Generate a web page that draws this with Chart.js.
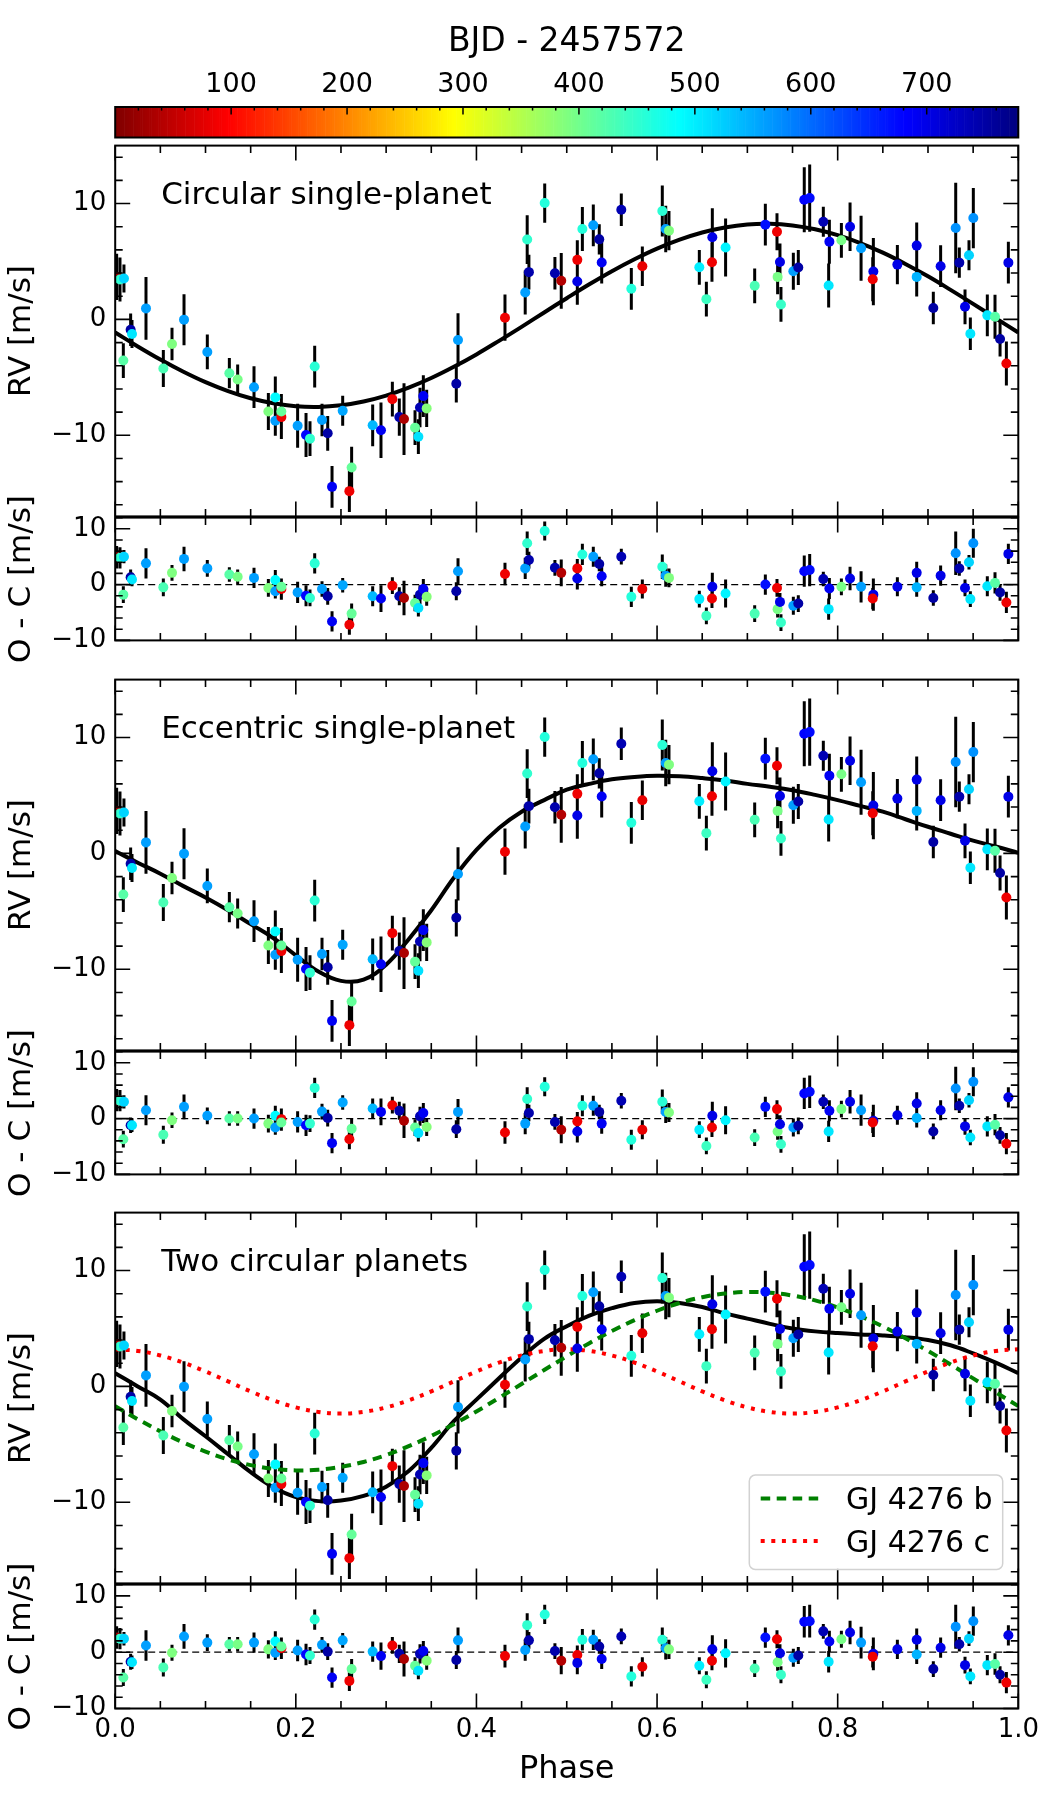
<!DOCTYPE html>
<html>
<head>
<meta charset="utf-8">
<script src="https://cdn.jsdelivr.net/npm/chart.js@4.4.1/dist/chart.umd.min.js"></script>
<style>
  html, body { margin: 0; padding: 0; background: #fff; }
  #wrap { position: relative; width: 1050px; height: 1800px; }
  #wrap canvas { position: absolute; left: 0; }
</style>
</head>
<body>
<div id="wrap"></div>
<script>
// ---- data ----
const T_MAX = 779; // colour scale end, BJD - 2457572

const phase = [
  0.0016, 0.0053, 0.0097, 0.0090, 0.0171, 0.0186, 0.0341, 0.0533, 0.0629, 0.0762,
  0.1020, 0.1264, 0.1356, 0.1537, 0.1696, 0.1773, 0.1773, 0.1840, 0.1840, 0.2020,
  0.2113, 0.2157, 0.2209, 0.2290, 0.2353, 0.2401, 0.2519, 0.2593, 0.2618, 0.2851,
  0.2943, 0.3069, 0.3146, 0.3198, 0.3320, 0.3357, 0.3375, 0.3412, 0.3449, 0.3777,
  0.3796, 0.4316, 0.4540, 0.4562, 0.4581, 0.4756, 0.4869, 0.4939, 0.5117, 0.5117,
  0.5173, 0.5294, 0.5360, 0.5387, 0.5604, 0.5715, 0.5837, 0.6058, 0.6096, 0.6132,
  0.6468, 0.6546, 0.6608, 0.6612, 0.6759, 0.7081, 0.7199, 0.7328, 0.7335, 0.7361,
  0.7372, 0.7509, 0.7564, 0.7630, 0.7690, 0.7841, 0.7908, 0.7900, 0.8041, 0.8137,
  0.8259, 0.8395, 0.8388, 0.8661, 0.8875, 0.8875, 0.9059, 0.9140, 0.9307, 0.9347,
  0.9410, 0.9454, 0.9469, 0.9502, 0.9657, 0.9742, 0.9798, 0.9868, 0.9890
];

const rv = [
  3.67, 3.44, 3.53, -3.55, -0.90, -1.26, 0.95, -4.24, -2.12, -0.02,
  -2.81, -4.64, -5.19, -5.85, -7.94, -6.73, -8.74, -8.43, -7.94, -9.17,
  -9.97, -10.29, -4.07, -8.68, -9.83, -14.45, -7.88, -14.82, -12.78, -9.14,
  -9.57, -6.88, -8.43, -8.60, -9.34, -10.12, -7.60, -6.62, -7.68, -5.56,
  -1.77, 0.15, 2.33, 6.89, 4.08, 10.04, 3.99, 3.33, 5.14, 3.27,
  7.80, 8.12, 6.91, 4.91, 9.47, 2.64, 4.59, 9.35, 7.80, 7.66,
  4.50, 1.75, 4.94, 7.09, 6.20, 2.90, 8.18, 7.57, 3.67, 4.96,
  1.29, 4.16, 4.48, 10.33, 10.47, 8.43, 6.71, 2.93, 6.83, 8.00,
  6.14, 4.13, 3.47, 4.73, 6.37, 3.67, 0.98, 4.59, 7.89, 4.90,
  1.09, 5.54, -1.23, 8.75, 0.35, 0.23, -1.69, -3.81, 4.90
];

const rvErr = [
  2.0, 1.9, 1.2, 1.5, 1.4, 1.2, 2.7, 1.6, 1.4, 2.2,
  1.5, 1.3, 1.3, 1.8, 1.6, 1.8, 1.3, 1.9, 1.5, 1.9,
  1.9, 1.5, 1.8, 1.4, 1.5, 1.8, 1.3, 1.8, 1.8, 1.8,
  2.4, 1.5, 1.6, 3.1, 1.5, 1.5, 1.7, 1.8, 1.6, 1.6,
  2.3, 2.0, 1.9, 2.1, 1.5, 1.7, 1.4, 2.4, 1.7, 2.0,
  1.9, 1.8, 1.3, 1.8, 1.4, 1.8, 1.7, 2.2, 2.0, 1.7,
  1.5, 1.5, 1.7, 2.5, 2.5, 1.5, 1.8, 1.6, 1.5, 1.6,
  1.5, 1.6, 1.5, 2.8, 2.9, 1.3, 1.9, 1.9, 1.5, 2.1,
  2.8, 2.9, 1.9, 1.7, 2.0, 1.7, 1.4, 1.8, 3.9, 1.3,
  1.5, 1.3, 1.4, 2.6, 1.8, 1.9, 1.5, 1.9, 1.8
];

const bjd = [
  30, 450, 520, 420, 750, 505, 560, 430, 390, 560,
  560, 420, 395, 560, 390, 490, 560, 85, 410, 560,
  680, 450, 455, 560, 750, 690, 555, 85, 410, 540,
  690, 85, 745, 35, 410, 510, 740, 690, 385, 750,
  560, 85, 560, 450, 745, 460, 745, 40, 85, 700,
  460, 560, 750, 690, 740, 460, 80, 455, 560, 390,
  500, 440, 85, 700, 495, 430, 670, 85, 395, 700,
  445, 560, 750, 680, 675, 740, 690, 505, 395, 700,
  560, 700, 85, 700, 700, 545, 750, 700, 570, 745,
  700, 520, 505, 570, 505, 420, 750, 85, 700
];

const ocCircular = [
  4.9, 4.8, 5.0, -1.8, 1.3, 0.9, 3.8, -0.5, 2.1, 4.6,
  2.9, 1.8, 1.4, 1.2, -0.6, 0.8, -1.2, -0.8, -0.4, -1.4,
  -2.0, -2.4, 3.8, -0.8, -2.1, -6.6, -0.1, -7.2, -5.2, -2.1,
  -2.5, -0.2, -2.1, -2.4, -3.3, -4.2, -1.8, -0.8, -2.2, -1.2,
  2.4, 1.9, 2.9, 7.4, 4.4, 9.6, 3.0, 2.1, 2.9, 1.1,
  5.4, 5.0, 3.7, 1.5, 5.0, -2.2, -0.8, 3.2, 1.6, 1.2,
  -2.6, -5.6, -2.5, -0.4, -1.6, -5.2, 0.0, -0.6, -4.4, -3.1,
  -6.8, -3.8, -3.4, 2.4, 2.6, 1.0, -0.7, -4.4, -0.4, 1.1,
  -0.4, -1.8, -2.5, -0.4, 2.1, -0.5, -2.4, 1.6, 5.6, 2.9,
  -0.6, 4.0, -2.6, 7.4, -0.3, 0.3, -1.4, -3.2, 5.5
];

const ocEccentric = [
  3.3, 3.2, 3.0, -3.7, -1.2, -1.2, 1.5, -2.9, -0.3, 2.1,
  0.5, 0.0, 0.0, 0.0, -0.9, 0.5, -1.6, -0.1, -0.7, -0.6,
  -1.2, -0.9, 5.5, 1.25, 0.1, -4.4, 2.9, -3.7, -1.8, 1.8,
  1.2, 2.4, 1.4, -0.4, -1.6, -2.6, 0.4, 1.0, -1.5, -1.9,
  1.2, -2.5, -0.9, 3.5, 1.0, 5.7, -0.6, -2.0, -0.5, -2.3,
  2.3, 2.3, 1.2, -0.9, 3.2, -3.8, -2.0, 3.0, 1.2, 1.1,
  -2.0, -4.9, -1.6, 0.5, -0.3, -3.4, 2.1, 1.7, -2.3, -1.0,
  -4.6, -1.6, -1.3, 4.5, 4.8, 3.0, 1.4, -2.3, 1.7, 3.0,
  1.5, -0.4, -0.7, 0.6, 2.7, 0.1, -2.3, 1.5, 5.4, 2.3,
  -1.4, 3.3, -3.4, 6.6, -1.4, -1.1, -3.0, -4.5, 3.8
];

const ocTwoPlanet = [
  2.6, 2.4, 2.4, -4.5, -1.7, -1.8, 1.2, -2.7, -0.1, 2.8,
  1.7, 1.4, 1.4, 1.7, 0.5, 1.9, -0.1, 0.7, 1.0, 0.3,
  -0.4, -0.6, 5.8, 1.3, 0.1, -4.5, 2.1, -5.1, -3.0, 0.1,
  -0.7, 1.2, -0.3, -1.2, -2.4, -3.3, -0.3, 0.2, -1.5, -1.4,
  2.1, -0.7, 0.4, 4.8, 2.1, 6.7, 0.2, -1.5, -0.5, -1.9,
  2.2, 2.2, 1.0, -1.2, 2.8, -4.3, -2.6, 2.2, 0.7, 0.5,
  -2.4, -4.9, -1.5, 0.5, -0.2, -2.9, 2.6, 2.3, -1.8, -0.2,
  -4.0, -1.0, -0.6, 5.4, 5.5, 3.7, 1.9, -1.7, 2.3, 3.5,
  1.7, -0.3, -0.8, 0.5, 2.2, -0.4, -3.0, 0.8, 4.5, 1.4,
  -2.3, 2.4, -4.3, 5.5, -2.3, -2.1, -4.0, -5.4, 3.0
];

// model curves, sampled every 0.025 in phase
const modelPhase = [
  0, 0.025, 0.05, 0.075, 0.1, 0.125, 0.15, 0.175, 0.2, 0.225,
  0.25, 0.275, 0.3, 0.325, 0.35, 0.375, 0.4, 0.425, 0.45, 0.475,
  0.5, 0.525, 0.55, 0.575, 0.6, 0.625, 0.65, 0.675, 0.7, 0.725,
  0.75, 0.775, 0.8, 0.825, 0.85, 0.875, 0.9, 0.925, 0.95, 0.975, 1.0
];
const modelCircular = [
  -1.13, -2.33, -3.46, -4.49, -5.41, -6.18, -6.80, -7.23, -7.49, -7.55,
  -7.41, -7.08, -6.57, -5.89, -5.06, -4.09, -3.02, -1.85, -0.64, 0.60,
  1.83, 3.03, 4.16, 5.19, 6.11, 6.88, 7.50, 7.93, 8.19, 8.25,
  8.11, 7.78, 7.27, 6.59, 5.76, 4.79, 3.72, 2.55, 1.34, 0.10, -1.13
];
const modelEccentric = [
  0.2, -0.8, -1.75, -2.8, -3.8, -4.9, -6.1, -7.3, -8.8, -10.2,
  -11.0, -10.9, -9.6, -7.4, -4.9, -2.1, 0.3, 2.2, 3.6, 4.6,
  5.5, 6.0, 6.4, 6.6, 6.7, 6.65, 6.5, 6.3, 6.0, 5.75,
  5.45, 5.05, 4.6, 4.1, 3.6, 2.95, 2.3, 1.7, 1.1, 0.6, 0.05
];
const modelTwoPlanet = [
  1.14, 0.0, -1.14, -2.8, -4.3, -5.85, -7.4, -8.7, -9.55, -9.9,
  -9.85, -9.45, -8.65, -7.3, -5.3, -3.0, -1.14, 0.7, 2.5, 4.1,
  5.2, 6.1, 6.75, 7.2, 7.34, 7.2, 6.85, 6.3, 5.85, 5.4,
  5.0, 4.75, 4.6, 4.49, 4.4, 4.25, 4.0, 3.55, 2.85, 2.05, 1.14
];
const modelPlanetB = [
  -1.70, -2.83, -3.88, -4.82, -5.63, -6.30, -6.79, -7.11, -7.25, -7.19,
  -6.94, -6.52, -5.92, -5.16, -4.27, -3.26, -2.16, -0.99, 0.21, 1.41,
  2.60, 3.73, 4.78, 5.72, 6.53, 7.20, 7.70, 8.01, 8.15, 8.09,
  7.84, 7.42, 6.82, 6.06, 5.17, 4.16, 3.06, 1.89, 0.69, -0.51, -1.70
];
const modelPlanetC = [
  3.20, 3.06, 2.67, 2.06, 1.29, 0.43, -0.43, -1.20, -1.81, -2.20,
  -2.34, -2.20, -1.81, -1.20, -0.43, 0.43, 1.29, 2.06, 2.67, 3.06,
  3.20, 3.06, 2.67, 2.06, 1.29, 0.43, -0.43, -1.20, -1.81, -2.20,
  -2.34, -2.20, -1.81, -1.20, -0.43, 0.43, 1.29, 2.06, 2.67, 3.06, 3.20
];

const phaseTicks = [0, 0.2, 0.4, 0.6, 0.8, 1.0];
const rvTicks = [-10, 0, 10];
const ocTicks = [-10, 0, 10];
const bjdTicks = [100, 200, 300, 400, 500, 600, 700];
const panelTitles = ['Circular single-planet', 'Eccentric single-planet', 'Two circular planets'];
const planetNames = ['GJ 4276 b', 'GJ 4276 c'];

// ---- helpers ----
Chart.defaults.font.family = '"DejaVu Sans", sans-serif';
Chart.defaults.color = '#000';

function jet(v) {
  const c = (x) => Math.round(255 * Math.min(1, Math.max(0, x)));
  return `rgb(${c(1.5 - Math.abs(4 * v - 3))},${c(1.5 - Math.abs(4 * v - 2))},${c(1.5 - Math.abs(4 * v - 1))})`;
}
const timeColor = (t) => jet(1 - t / T_MAX);
const pointColors = bjd.map(timeColor);

const yTickLabel = (v) => (v < 0 ? '\u2212' + Math.abs(v) : String(v));
const toXY = (xs, ys) => xs.map((x, i) => ({ x: x, y: ys[i] }));

const PLOT_LEFT = 115.2;
const PAD_RIGHT = 31.7;
const EDGE = 24;

const wrap = document.getElementById('wrap');
function makeCanvas(top, height) {
  const c = document.createElement('canvas');
  c.width = 1050;
  c.height = height;
  c.style.top = top + 'px';
  wrap.appendChild(c);
  return c;
}

// inward ticks on all four sides + frame
const frameTicks = {
  id: 'frameTicks',
  afterDraw(chart, args, opts) {
    if (!opts.on) return;
    const { ctx, chartArea: a } = chart;
    const x = chart.scales.x, y = chart.scales.y;
    ctx.save();
    ctx.strokeStyle = '#000';
    ctx.lineWidth = 1.6;
    ctx.beginPath();
    for (let i = 0; i <= 20; i++) {
      const px = x.getPixelForValue(i * 0.05);
      const len = i % 4 === 0 ? 15 : 7.5;
      ctx.moveTo(px, a.top); ctx.lineTo(px, a.top + len);
      ctx.moveTo(px, a.bottom); ctx.lineTo(px, a.bottom - len);
    }
    for (let v = Math.ceil(y.min / 2) * 2; v <= y.max; v += 2) {
      const py = y.getPixelForValue(v);
      const len = v % 10 === 0 ? 15 : 7.5;
      ctx.moveTo(a.left, py); ctx.lineTo(a.left + len, py);
      ctx.moveTo(a.right, py); ctx.lineTo(a.right - len, py);
    }
    ctx.stroke();
    ctx.lineWidth = 2;
    ctx.strokeRect(a.left, a.top, a.right - a.left, a.bottom - a.top);
    ctx.restore();
  }
};

const errorBars = {
  id: 'errorBars',
  beforeDatasetsDraw(chart, args, opts) {
    if (!opts.values) return;
    const { ctx, chartArea: a } = chart;
    const x = chart.scales.x, y = chart.scales.y;
    ctx.save();
    ctx.beginPath();
    ctx.rect(a.left, a.top, a.right - a.left, a.bottom - a.top);
    ctx.clip();
    ctx.strokeStyle = '#000';
    ctx.lineWidth = 3;
    ctx.beginPath();
    opts.values.forEach((v, i) => {
      const px = x.getPixelForValue(phase[i]);
      ctx.moveTo(px, y.getPixelForValue(v - rvErr[i]));
      ctx.lineTo(px, y.getPixelForValue(v + rvErr[i]));
    });
    ctx.stroke();
    ctx.restore();
  }
};

const panelText = {
  id: 'panelText',
  afterDatasetsDraw(chart, args, opts) {
    if (!opts.text) return;
    const { ctx, chartArea: a } = chart;
    ctx.save();
    ctx.font = '31px "DejaVu Sans"';
    ctx.fillStyle = '#000';
    ctx.textBaseline = 'alphabetic';
    ctx.fillText(opts.text, a.left + 46, a.top + 58.5);
    ctx.restore();
  }
};

const planetLegend = {
  id: 'planetLegend',
  afterDraw(chart, args, opts) {
    if (!opts.items) return;
    const { ctx, chartArea: a } = chart;
    const w = 253.4, h = 94.3;
    const left = a.right - 15.6 - w, top = a.bottom - 14 - h;
    ctx.save();
    ctx.beginPath();
    ctx.roundRect(left, top, w, h, 6);
    ctx.fillStyle = 'rgba(255,255,255,0.8)';
    ctx.fill();
    ctx.strokeStyle = '#d2d2d2';
    ctx.lineWidth = 1.5;
    ctx.stroke();
    ctx.font = '30px "DejaVu Sans"';
    ctx.fillStyle = '#000';
    ctx.textBaseline = 'alphabetic';
    opts.items.forEach((it, k) => {
      const yy = top + 23.3 + k * 42.7;
      ctx.beginPath();
      ctx.setLineDash(it.dash);
      ctx.strokeStyle = it.color;
      ctx.lineWidth = 4;
      ctx.moveTo(left + 11.4, yy);
      ctx.lineTo(left + 71.4, yy);
      ctx.stroke();
      ctx.setLineDash([]);
      ctx.fillText(it.label, left + 96.7, yy + 11);
    });
    ctx.restore();
  }
};

Chart.register(frameTicks, errorBars, panelText, planetLegend);

function baseOptions(padBottom) {
  return {
    responsive: false,
    animation: false,
    devicePixelRatio: 1,
    events: [],
    layout: { padding: { left: 0, right: PAD_RIGHT, top: EDGE, bottom: padBottom } },
  };
}

function yAxis(min, max, ticks, title) {
  return {
    type: 'linear',
    min: min,
    max: max,
    afterBuildTicks: (s) => { s.ticks = ticks.map((v) => ({ value: v })); },
    afterFit: (s) => { s.width = PLOT_LEFT; },
    grid: { display: false, drawTicks: false },
    border: { display: false },
    ticks: { font: { size: 26 }, color: '#000', padding: 9, callback: yTickLabel },
    title: { display: true, text: title, font: { size: 31 }, color: '#000', padding: { top: 3, bottom: 3 } }
  };
}

function pointsDataset(values) {
  return {
    data: toXY(phase, values),
    pointRadius: 5,
    pointBorderWidth: 0,
    pointBackgroundColor: pointColors,
    showLine: false,
    order: 0
  };
}

function curve(ys, color, width, dash, order) {
  return {
    data: toXY(modelPhase, ys),
    showLine: true,
    pointRadius: 0,
    borderColor: color,
    borderWidth: width,
    borderDash: dash,
    tension: 0.4,
    fill: false,
    order: order
  };
}

// ---- colour bar ----
(function () {
  const cbTop = 107, cbBottom = 137.5, h = 150;
  const opts = baseOptions(h - cbBottom);
  opts.layout.padding.left = PLOT_LEFT;
  opts.layout.padding.top = 0;
  opts.plugins = { legend: { display: false }, tooltip: { enabled: false } };
  opts.scales = {
    x: {
      type: 'linear', position: 'top', min: 0, max: T_MAX,
      afterBuildTicks: (s) => { s.ticks = bjdTicks.map((v) => ({ value: v })); },
      afterFit: (s) => { s.height = cbTop; },
      grid: { display: false, drawTicks: false },
      border: { display: false },
      ticks: { font: { size: 27 }, color: '#000', padding: 6, maxRotation: 0 },
      title: { display: true, text: 'BJD - 2457572', font: { size: 33 }, color: '#000', padding: { top: 23, bottom: 0 } }
    },
    y: { display: false, min: 0, max: 1 }
  };
  new Chart(makeCanvas(0, h), {
    type: 'scatter',
    data: { datasets: [] },
    options: opts,
    plugins: [{
      id: 'jetBar',
      beforeDraw(chart) {
        const { ctx, chartArea: a } = chart;
        const n = 400, w = (a.right - a.left) / n;
        for (let i = 0; i < n; i++) {
          ctx.fillStyle = jet(1 - (i + 0.5) / n);
          ctx.fillRect(a.left + i * w, a.top, w + 0.6, a.bottom - a.top);
        }
      },
      afterDraw(chart) {
        const { ctx, chartArea: a } = chart;
        const x = chart.scales.x;
        ctx.save();
        ctx.strokeStyle = '#000';
        ctx.lineWidth = 1.5;
        ctx.beginPath();
        for (let v = 20; v < T_MAX; v += 20) {
          const px = x.getPixelForValue(v);
          ctx.moveTo(px, a.top);
          ctx.lineTo(px, a.top + (v % 100 === 0 ? 7.5 : 3.5));
        }
        ctx.stroke();
        ctx.lineWidth = 2;
        ctx.strokeRect(a.left, a.top, a.right - a.left, a.bottom - a.top);
        ctx.restore();
      }
    }]
  });
})();

// ---- panels ----
const MAIN_H = 372, OC_H = 124.5;
const mainTops = [145, 678.5, 1212];

function rvPanel(k, curves, legendItems) {
  const top = mainTops[k];
  const opts = baseOptions(EDGE);
  opts.plugins = {
    legend: { display: false }, tooltip: { enabled: false },
    frameTicks: { on: true },
    errorBars: { values: rv },
    panelText: { text: panelTitles[k] },
    planetLegend: legendItems ? { items: legendItems } : {}
  };
  opts.scales = {
    x: { type: 'linear', min: 0, max: 1, display: false },
    y: yAxis(-17, 15, rvTicks, 'RV [m/s]')
  };
  new Chart(makeCanvas(top - EDGE, MAIN_H + 2 * EDGE), {
    type: 'scatter',
    data: { datasets: [pointsDataset(rv)].concat(curves) },
    options: opts
  });
}

function ocPanel(k, values, last) {
  const top = mainTops[k] + MAIN_H;
  const canvasTop = top - EDGE;
  const h = last ? 1800 - canvasTop : OC_H + 2 * EDGE;
  const opts = baseOptions(last ? 0 : EDGE);
  opts.plugins = {
    legend: { display: false }, tooltip: { enabled: false },
    frameTicks: { on: true },
    errorBars: { values: values }
  };
  const x = { type: 'linear', min: 0, max: 1, display: false };
  if (last) {
    Object.assign(x, {
      display: true,
      afterBuildTicks: (s) => { s.ticks = phaseTicks.map((v) => ({ value: v })); },
      afterFit: (s) => { s.height = h - EDGE - OC_H; },
      grid: { display: false, drawTicks: false },
      border: { display: false },
      ticks: { font: { size: 26 }, color: '#000', padding: 6, maxRotation: 0, callback: (v) => v.toFixed(1) },
      title: { display: true, text: 'Phase', font: { size: 32 }, color: '#000', padding: { top: 0, bottom: 11 } }
    });
  }
  opts.scales = { x: x, y: yAxis(-10, 12, ocTicks, 'O - C [m/s]') };
  const zero = {
    data: [{ x: 0, y: 0 }, { x: 1, y: 0 }],
    showLine: true, pointRadius: 0,
    borderColor: '#000', borderWidth: 1.3, borderDash: [7, 4],
    order: 5
  };
  new Chart(makeCanvas(canvasTop, h), {
    type: 'scatter',
    data: { datasets: [pointsDataset(values), zero] },
    options: opts
  });
}

rvPanel(0, [curve(modelCircular, '#000', 4, [], 3)]);
ocPanel(0, ocCircular, false);

rvPanel(1, [curve(modelEccentric, '#000', 4, [], 3)]);
ocPanel(1, ocEccentric, false);

rvPanel(2, [
  curve(modelTwoPlanet, '#000', 4, [], 3),
  curve(modelPlanetB, '#008000', 4, [9.5, 6.5], 2),
  curve(modelPlanetC, '#ff0000', 4, [4, 6.6], 1)
], [
  { label: planetNames[0], color: '#008000', dash: [9.5, 6.5] },
  { label: planetNames[1], color: '#ff0000', dash: [4, 6.6] }
]);
ocPanel(2, ocTwoPlanet, true);
</script>
</body>
</html>
